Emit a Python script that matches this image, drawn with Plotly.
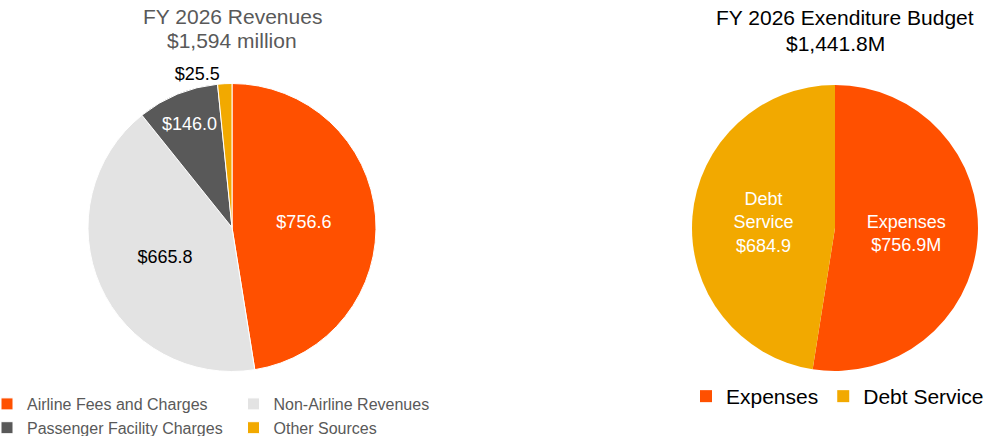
import plotly.graph_objects as go

# Revenues (left pie)
rev_labels = ["Airline Fees and Charges", "Non-Airline Revenues",
              "Passenger Facility Charges", "Other Sources"]
rev_values = [756.6, 665.8, 146.0, 25.5]
rev_text = ["$756.6", "$665.8", "$146.0", "$25.5"]
rev_colors = ["#FF5000", "#E3E3E3", "#595959", "#F2A900"]
rev_textcolors = ["#FFFFFF", "#000000", "#FFFFFF", "#000000"]
rev_textpos = ["inside", "inside", "inside", "outside"]

# Expenditures (right pie)
exp_labels = ["Expenses", "Debt Service"]
exp_values = [756.9, 684.9]
exp_text = ["Expenses<br>$756.9M", "Debt<br>Service<br>$684.9"]
exp_colors = ["#FF5000", "#F2A900"]

W, H = 986, 436

fig = go.Figure()

fig.add_trace(go.Pie(
    labels=rev_labels, values=rev_values, text=rev_text,
    textinfo="text", textposition=rev_textpos,
    insidetextorientation="horizontal",
    sort=False, direction="clockwise", rotation=0,
    marker=dict(colors=rev_colors, line=dict(color="#FFFFFF", width=1)),
    textfont=dict(family="Liberation Sans, Arial, sans-serif", size=18, color=rev_textcolors),
    domain=dict(x=[88 / W, 376 / W], y=[(436 - 371.5) / H, (436 - 83.5) / H]),
    hoverinfo="label+value",
    legend="legend",
))

fig.add_trace(go.Pie(
    labels=exp_labels, values=exp_values, text=exp_text,
    textinfo="text", textposition="inside",
    insidetextorientation="horizontal",
    sort=False, direction="clockwise", rotation=0,
    marker=dict(colors=exp_colors, line=dict(color="#FFFFFF", width=0)),
    textfont=dict(family="Liberation Sans, Arial, sans-serif", size=18, color="#FFFFFF"),
    domain=dict(x=[692 / W, 978 / W], y=[(436 - 372) / H, (436 - 84) / H]),
    hoverinfo="label+value",
    legend="legend2",
))

ann_font = "Liberation Sans, Arial, sans-serif"
fig.update_layout(
    width=W, height=H,
    margin=dict(l=0, r=0, t=0, b=0, autoexpand=False),
    paper_bgcolor="#FFFFFF", plot_bgcolor="#FFFFFF",
    font=dict(family=ann_font),
    legend=dict(
        orientation="h", x=-13 / W, xanchor="left", y=(436 - 387) / H, yanchor="top",
        entrywidthmode="fraction", entrywidth=0.5,
        font=dict(size=16, color="#595959", family=ann_font),
        bgcolor="rgba(0,0,0,0)", traceorder="normal",
    ),
    legend2=dict(
        orientation="h", x=686 / W, xanchor="left", y=(436 - 376) / H, yanchor="top",
        font=dict(size=21, color="#000000", family=ann_font),
        bgcolor="rgba(0,0,0,0)",
    ),
    annotations=[
        dict(text="FY 2026 Revenues", x=232 / W, y=(436 - 16) / H, xref="paper", yref="paper",
             showarrow=False, xanchor="center", yanchor="middle",
             font=dict(size=21, color="#595959", family=ann_font)),
        dict(text="$1,594 million", x=232 / W, y=(436 - 40) / H, xref="paper", yref="paper",
             showarrow=False, xanchor="center", yanchor="middle",
             font=dict(size=21, color="#595959", family=ann_font)),
        dict(text="FY 2026 Exenditure Budget", x=845 / W, y=(436 - 18) / H, xref="paper", yref="paper",
             showarrow=False, xanchor="center", yanchor="middle",
             font=dict(size=21, color="#000000", family=ann_font)),
        dict(text="$1,441.8M", x=835 / W, y=(436 - 44) / H, xref="paper", yref="paper",
             showarrow=False, xanchor="center", yanchor="middle",
             font=dict(size=21, color="#000000", family=ann_font)),
    ],
)

fig.write_html("out.html", config={"displayModeBar": False},
               post_script="document.body.style.margin='0px';")
